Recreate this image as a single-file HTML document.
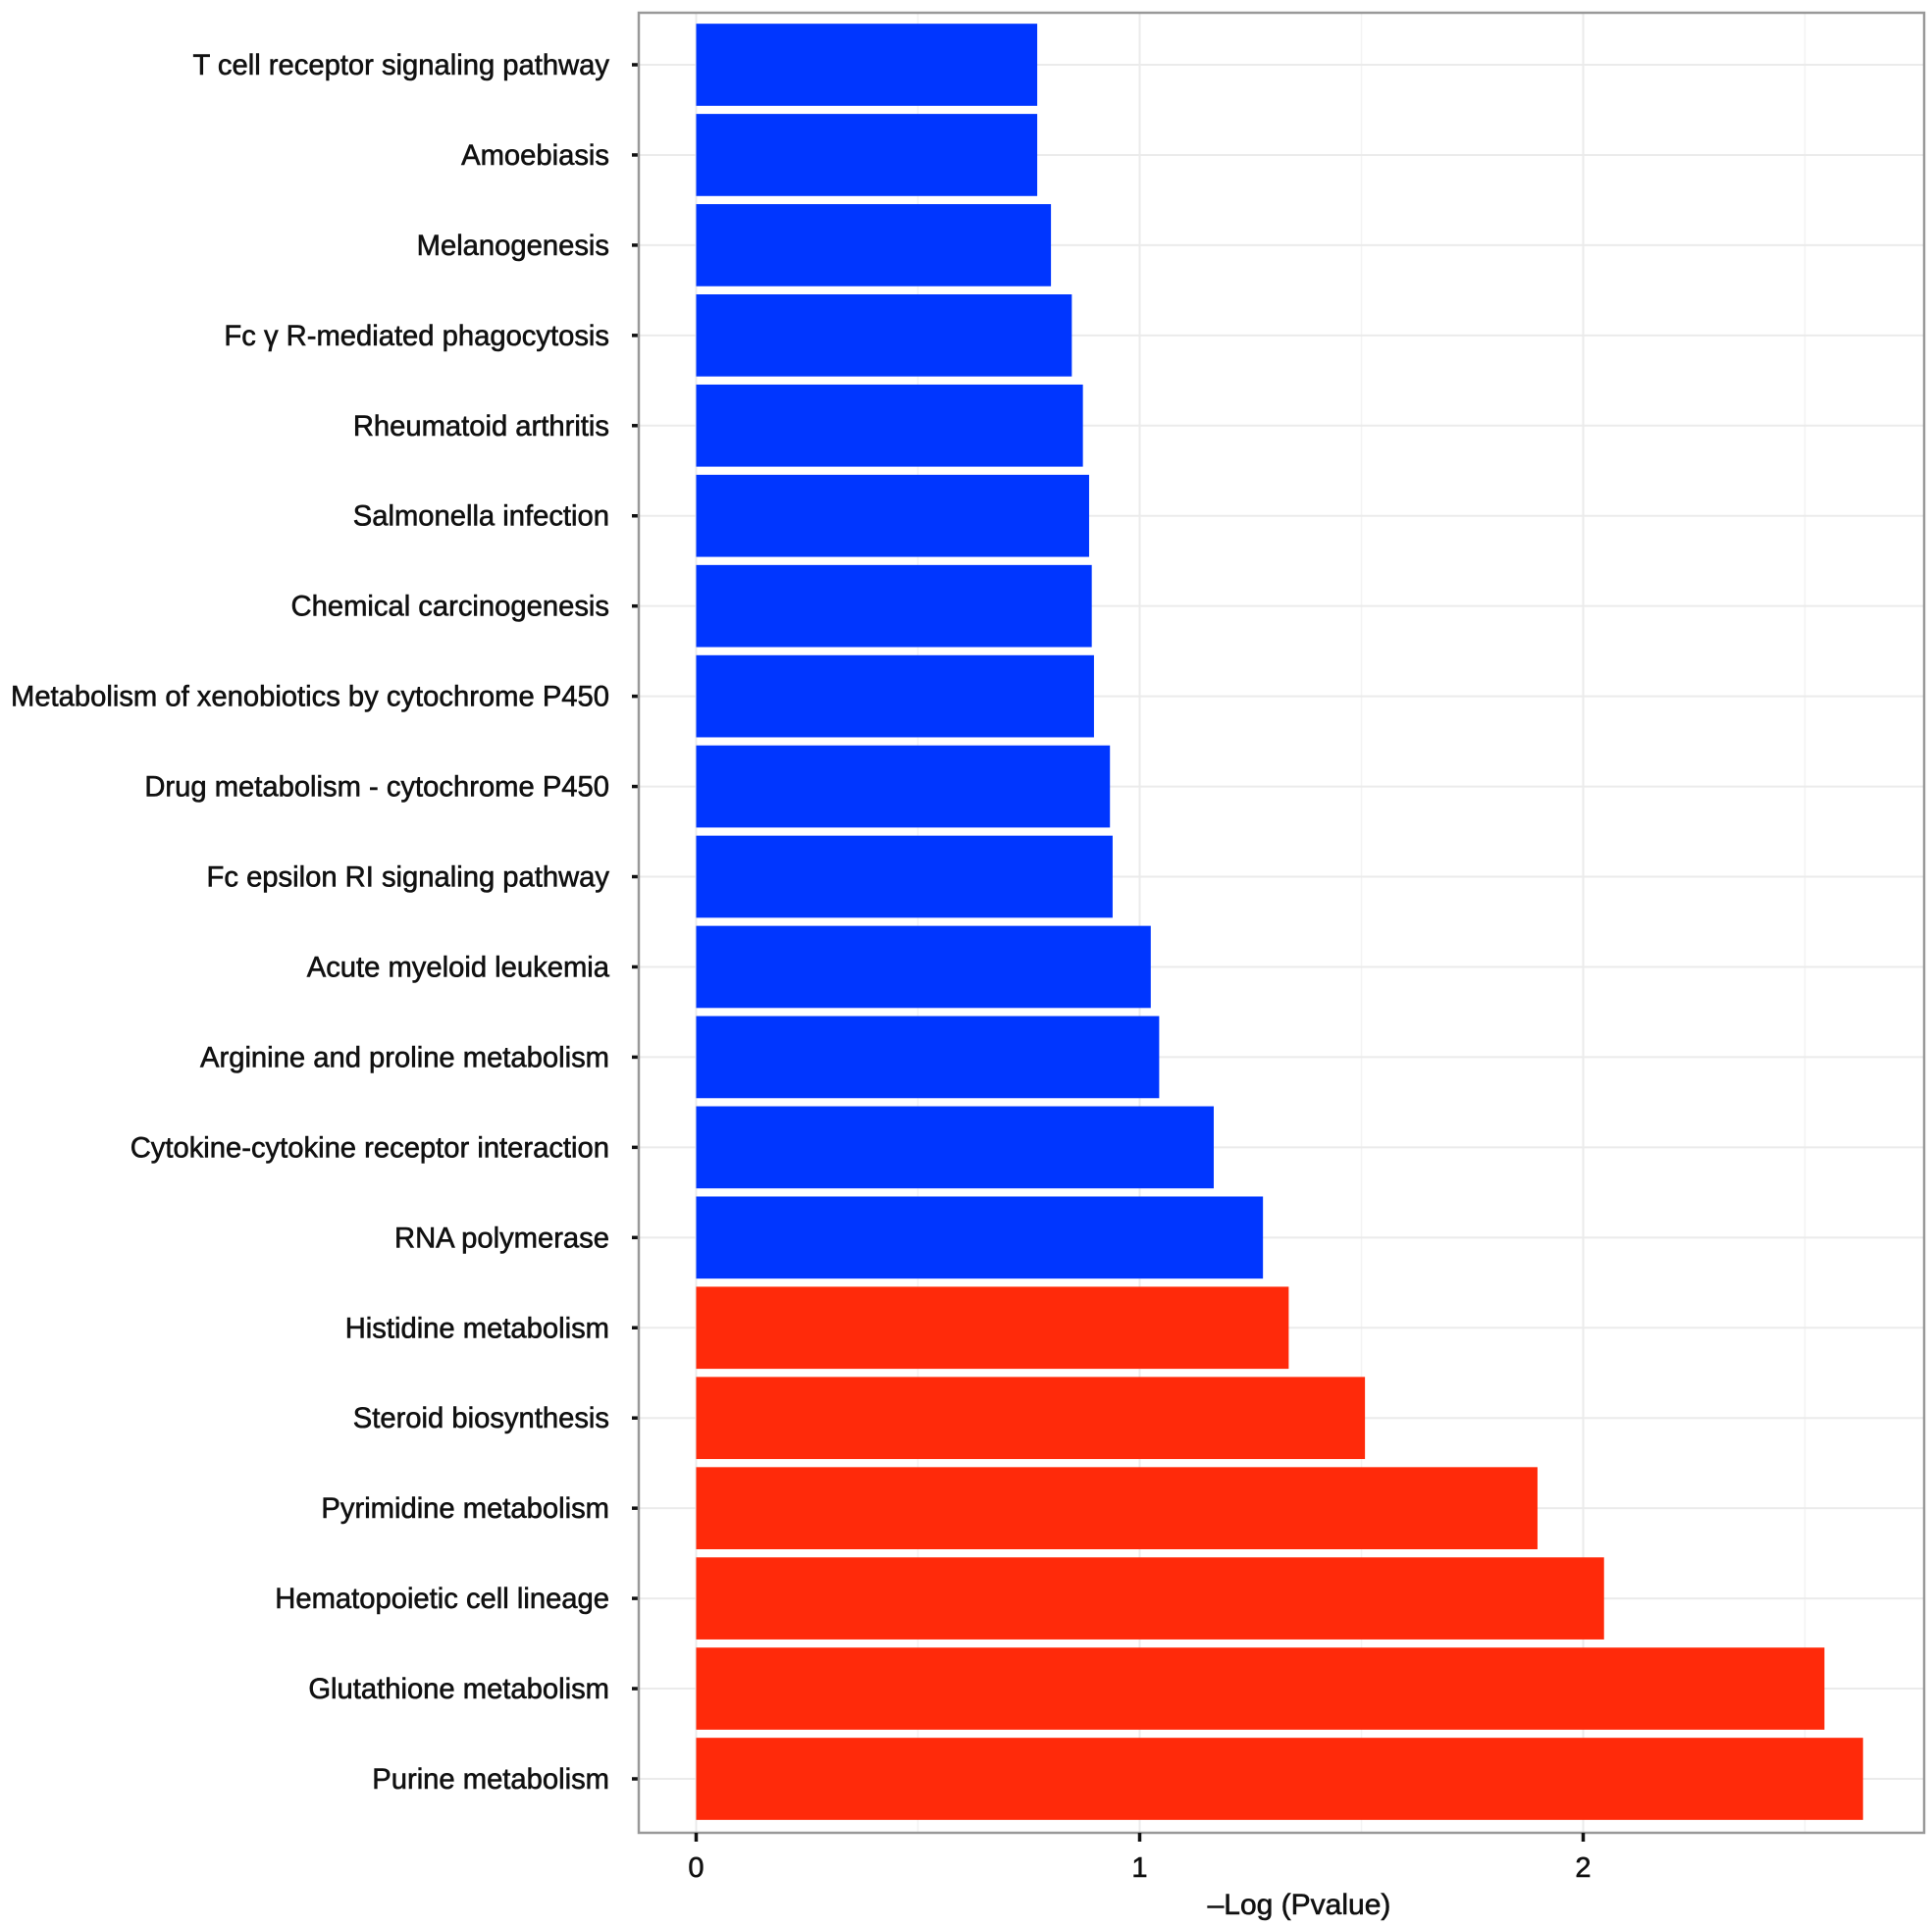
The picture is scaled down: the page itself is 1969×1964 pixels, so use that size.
<!DOCTYPE html>
<html><head><meta charset="utf-8"><style>
html,body{margin:0;padding:0;background:#fff;}
svg{display:block;font-family:"Liberation Sans",Arial,sans-serif;}
</style></head><body>
<svg id="chart" width="1969" height="1964" viewBox="0 0 1969 1964"></svg>
<script>
const categories = ["T cell receptor signaling pathway","Amoebiasis","Melanogenesis","Fc \u03b3 R-mediated phagocytosis","Rheumatoid arthritis","Salmonella infection","Chemical carcinogenesis","Metabolism of xenobiotics by cytochrome P450","Drug metabolism - cytochrome P450","Fc epsilon RI signaling pathway","Acute myeloid leukemia","Arginine and proline metabolism","Cytokine-cytokine receptor interaction","RNA polymerase","Histidine metabolism","Steroid biosynthesis","Pyrimidine metabolism","Hematopoietic cell lineage","Glutathione metabolism","Purine metabolism"];
const values = [0.769,0.769,0.80,0.847,0.872,0.886,0.892,0.897,0.933,0.939,1.025,1.044,1.167,1.278,1.336,1.508,1.897,2.047,2.544,2.631];
const groups = ["down","down","down","down","down","down","down","down","down","down","down","down","down","down","up","up","up","up","up","up"];
const xTicks = [0,1,2];
const xTickLabels = ["0","1","2"];
const xMinorGrid = [0.5,1.5,2.5];

const NS="http://www.w3.org/2000/svg";
const svg=document.getElementById('chart');
const P={l:651,r:1961,t:13,b:1868};
const x0=709.5, unit=452;
const xs=v=>x0+v*unit;
const step=(1813-66)/(categories.length-1);
const ys=i=>66+i*step;
const bh=step*0.91;
function mk(t,a){const e=document.createElementNS(NS,t);for(const k in a)e.setAttribute(k,a[k]);svg.appendChild(e);return e;}

const bg=mk('rect',{x:P.l,y:P.t,width:P.r-P.l,height:P.b-P.t,fill:'#fff'});


xMinorGrid.forEach(v=>{const g=mk('line',{x1:xs(v),x2:xs(v),y1:P.t,y2:P.b,stroke:'#f3f3f3','stroke-width':1.5});

});
xTicks.forEach(v=>{const g=mk('line',{x1:xs(v),x2:xs(v),y1:P.t,y2:P.b,stroke:'#ebebeb','stroke-width':2});

});
categories.forEach((c,i)=>{const g=mk('line',{x1:P.l,x2:P.r,y1:ys(i),y2:ys(i),stroke:'#ebebeb','stroke-width':2});

});

categories.forEach((c,i)=>{
 const r=mk('rect',{x:xs(0),y:ys(i)-bh/2,width:xs(values[i])-xs(0),height:bh,fill:groups[i]==='up'?'#ff2a0a':'#0036ff'});
 
 
 const t=mk('line',{x1:644,x2:652,y1:ys(i),y2:ys(i),stroke:'#111','stroke-width':3.5});
 
 
 const l=mk('text',{x:621,y:ys(i)+10,'text-anchor':'end','font-size':29.2,fill:'#111',stroke:'#111','stroke-width':0.6});
 l.textContent=c;
 
 
});
const border=mk('rect',{x:P.l,y:P.t,width:P.r-P.l,height:P.b-P.t,fill:'none',stroke:'#999','stroke-width':2.5});


xTicks.forEach((v,i)=>{
 const t=mk('line',{x1:xs(v),x2:xs(v),y1:P.b,y2:P.b+9,stroke:'#111','stroke-width':3.5});
 
 
 const l=mk('text',{x:xs(v),y:1913,'text-anchor':'middle','font-size':29,fill:'#111',stroke:'#111','stroke-width':0.6});
 l.textContent=xTickLabels[i];
 
 
});
const xt=mk('text',{x:1324,y:1951,'text-anchor':'middle','font-size':30,fill:'#111',stroke:'#111','stroke-width':0.6});
xt.textContent='\u2013Log (Pvalue)';


</script>
</body></html>
